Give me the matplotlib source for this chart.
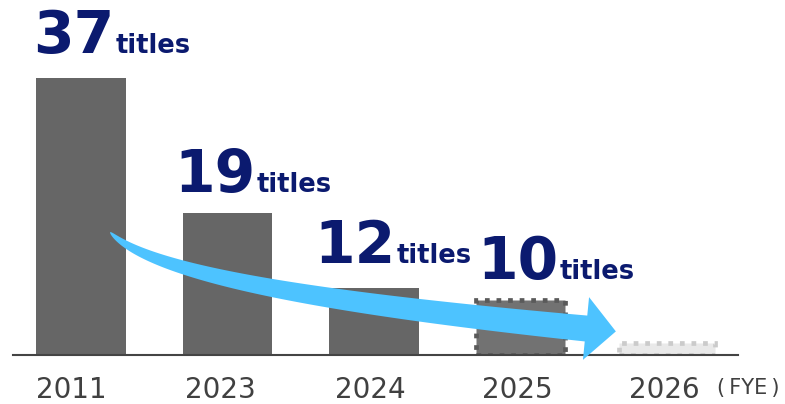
import numpy as np
import matplotlib
matplotlib.use("Agg")
import matplotlib.pyplot as plt
from matplotlib.patches import Polygon
from matplotlib.transforms import Affine2D

# ---- data ----
years = ["2011", "2023", "2024", "2025", "2026"]
bar_heights = [37, 19, 9.0, 7.4, 1.6]
label_values = ["37", "19", "12", "10"]
unit_label = "titles"
axis_note = "(\u2009FYE\u2009)"

# ---- styles ----
W, H = 785, 404
navy = "#0b1a6f"
bar_gray = "#666666"
arrow_color = "#4dc3ff"
label_dx = [-3, -8, -15, 2]      # pixel offsets of value labels from bar left edge
label_dy = [25, 21, 25, 21]      # pixel offsets above bar top
tick_dx = [-10, -7, -4, -3, -3]  # pixel nudges of year labels

fig = plt.figure(figsize=(W / 100, H / 100), dpi=100)
ax = fig.add_axes([13 / W, 49 / H, 725 / W, 299 / H])
x = np.arange(len(years))
bw = 0.61

ax.bar(x[:3], bar_heights[:3], width=bw, color=bar_gray, zorder=2)
ax.bar(x[3], bar_heights[3], width=bw, facecolor="#727272", edgecolor="#5a5a5a",
       linewidth=3.4, linestyle=(0, (1, 1.45)), zorder=2)
ax.bar(x[4], bar_heights[4], width=0.66, facecolor="#e9e9e9", edgecolor="#cbcbcb",
       linewidth=3.4, linestyle=(0, (1, 1.45)), zorder=2)

ax.set_xlim(-0.464, 4.485)
ax.set_ylim(0, 40)
for s in ["top", "right", "left"]:
    ax.spines[s].set_visible(False)
ax.spines["bottom"].set_color("#444444")
ax.spines["bottom"].set_linewidth(1.5)
ax.spines["bottom"].set_zorder(3)
ax.set_yticks([])
ax.set_xticks(x)
ax.set_xticklabels(years, fontsize=20, color="#404040", family="DejaVu Sans")
ax.tick_params(axis="x", length=0, pad=15)
for lab, ddx in zip(ax.get_xticklabels(), tick_dx):
    lab.set_transform(lab.get_transform() + Affine2D().translate(ddx, 0))

fig.text(717 / W, (H - 388) / H, axis_note, fontsize=15, color="#404040",
         ha="left", va="center", family="DejaVu Sans")

# ---- value labels ----
fig.canvas.draw()
renderer = fig.canvas.get_renderer()
for i, val in enumerate(label_values):
    left = x[i] - bw / 2
    top = bar_heights[i]
    t = ax.annotate(val, xy=(left, top), xytext=(label_dx[i], label_dy[i]),
                    textcoords="offset pixels", ha="left", va="baseline",
                    fontsize=42, fontweight="bold", color=navy,
                    family="DejaVu Sans", annotation_clip=False, zorder=6)
    bb = t.get_window_extent(renderer)
    ax.annotate(unit_label, xy=(left, top),
                xytext=(label_dx[i] + bb.width + 1, label_dy[i]),
                textcoords="offset pixels", ha="left", va="baseline",
                fontsize=18.5, fontweight="bold", color=navy,
                family="DejaVu Sans", annotation_clip=False, zorder=6)

# ---- curved arrow (pixel coordinates, y downward) ----
P = np.array([[110, 232], [150, 275], [330, 303.5], [586, 328.5]], float)
ts = np.linspace(0, 1, 120)
def bez(t):
    return ((1 - t) ** 3)[:, None] * P[0] + (3 * (1 - t) ** 2 * t)[:, None] * P[1] \
        + (3 * (1 - t) * t ** 2)[:, None] * P[2] + (t ** 3)[:, None] * P[3]
def dbez(t):
    return (3 * (1 - t) ** 2)[:, None] * (P[1] - P[0]) + (6 * (1 - t) * t)[:, None] * (P[2] - P[1]) \
        + (3 * t ** 2)[:, None] * (P[3] - P[2])
c = bez(ts)
d = dbez(ts)
d = d / np.linalg.norm(d, axis=1)[:, None]
n = np.stack([-d[:, 1], d[:, 0]], axis=1)
w = 26 * ts ** 0.55
upper = c + n * (w / 2)[:, None]
lower = c - n * (w / 2)[:, None]
dend = d[-1]
nend = n[-1]
base = c[-1]
head_half = 31.5
head_len = 30
tip = base + dend * head_len
body = np.vstack([upper, base + nend * head_half, tip, base - nend * head_half, lower[::-1]])
pix = Affine2D().scale(1, -1).translate(0, H)
arrow = Polygon(body, closed=True, facecolor=arrow_color, edgecolor="none",
                transform=pix, zorder=4)
ax.add_patch(arrow)
arrow.set_clip_on(False)

fig.savefig("out.png", dpi=100)
